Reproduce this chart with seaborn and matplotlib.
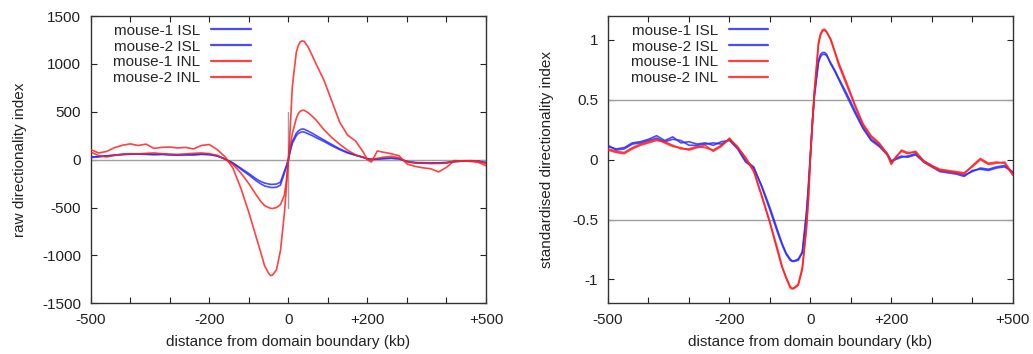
"""
Directionality index around domain boundaries (raw vs standardised)
"""

import pandas as pd
import matplotlib
matplotlib.use('Agg')
import matplotlib.pyplot as plt
import seaborn as sns

# distance from boundary (kb)
X_KB = [-500, -480, -460, -440, -420, -400, -380, -360, -340, -320, -300, -280, -260, -240,
        -220, -200, -180, -160, -140, -120, -100, -80,
        -70, -60, -50, -45, -40, -30, -20, -10, -5, 0, 5, 10, 20, 25, 30, 35, 40, 50, 60, 70,
        90, 110, 130, 150, 170, 190, 200, 210, 225, 240, 260, 280, 300, 320, 340, 360, 380,
        400, 420, 440, 460, 480, 500]

# raw directionality index
RAW_ISL_1 = [28, 32, 38, 45, 52, 56, 58, 55, 52, 54, 50, 48, 50, 52, 55, 52, 38, 5, -35, -90, -145, -205,
             -228, -245, -254, -258, -258, -255, -235, -120, -65, 0, 95, 170, 250, 272, 284, 290, 288, 270, 252, 230,
             190, 145, 105, 70, 45, 22, 8, 2, 5, 10, 14, 8, -20, -30, -32, -34, -34, -30, -20, -14, -12, -14, -30]
RAW_ISL_2 = [22, 30, 40, 48, 55, 60, 62, 58, 55, 57, 52, 50, 52, 50, 58, 55, 40, 8, -38, -100, -160, -225,
             -252, -275, -284, -290, -291, -288, -265, -140, -75, 0, 105, 190, 275, 298, 313, 320, 318, 298, 277, 252,
             205, 158, 112, 75, 48, 24, 10, 4, 8, 12, 16, 10, -18, -32, -36, -38, -36, -32, -22, -16, -14, -18, -35]
RAW_INL_1 = [105, 70, 85, 125, 150, 165, 148, 162, 118, 128, 132, 122, 128, 112, 148, 158, 105, 30, -90, -300, -550, -828,
             -965, -1110, -1185, -1211, -1205, -1150, -950, -560, -290, 0, 350, 760, 1120, 1190, 1230, 1240, 1235, 1175, 1090, 1000,
             830, 610, 390, 255, 195, 75, 0, -25, 90, 78, 62, 40, -45, -70, -85, -95, -128, -80, -10, -15, -18, -28, -63]
RAW_INL_2 = [80, 42, 28, 45, 58, 62, 60, 66, 70, 62, 58, 55, 60, 66, 70, 62, 45, 5, -50, -140, -250, -376,
             -435, -480, -500, -508, -510, -500, -470, -370, -220, 0, 150, 270, 430, 480, 505, 515, 515, 490, 455, 415,
             312, 230, 160, 98, 50, 24, 5, 0, 14, 25, 35, 18, -22, -35, -38, -40, -40, -35, -12, -12, -10, -14, -40]

# standardised directionality index
STD_ISL_1 = [0.11, 0.09, 0.10, 0.14, 0.15, 0.17, 0.20, 0.16, 0.19, 0.14, 0.15, 0.13, 0.14, 0.12, 0.15, 0.16, 0.09, -0.02, -0.07, -0.22, -0.40, -0.60,
             -0.70, -0.78, -0.83, -0.845, -0.845, -0.83, -0.77, -0.45, -0.22, 0.05, 0.32, 0.55, 0.83, 0.88, 0.895, 0.895, 0.88, 0.80, 0.74, 0.67,
             0.53, 0.39, 0.26, 0.16, 0.11, 0.04, -0.02, 0.0, 0.02, 0.03, 0.05, -0.01, -0.05, -0.09, -0.10, -0.11, -0.13, -0.10, -0.07, -0.08, -0.06, -0.05, -0.11]
STD_ISL_2 = [0.12, 0.08, 0.09, 0.13, 0.14, 0.16, 0.18, 0.15, 0.17, 0.16, 0.12, 0.12, 0.13, 0.14, 0.13, 0.17, 0.10, -0.01, -0.06, -0.23, -0.42, -0.62,
             -0.71, -0.79, -0.84, -0.85, -0.85, -0.84, -0.78, -0.47, -0.24, 0.03, 0.30, 0.53, 0.81, 0.86, 0.88, 0.88, 0.87, 0.81, 0.75, 0.68,
             0.55, 0.41, 0.27, 0.17, 0.12, 0.05, -0.01, 0.01, 0.03, 0.02, 0.04, -0.02, -0.06, -0.10, -0.11, -0.12, -0.14, -0.09, -0.08, -0.09, -0.07, -0.06, -0.10]
STD_INL_1 = [0.09, 0.07, 0.06, 0.10, 0.13, 0.15, 0.17, 0.14, 0.11, 0.10, 0.08, 0.10, 0.12, 0.07, 0.11, 0.18, 0.10, 0.02, -0.09, -0.30, -0.52, -0.76,
             -0.89, -0.98, -1.06, -1.075, -1.07, -1.04, -0.90, -0.57, -0.33, 0.02, 0.32, 0.58, 0.98, 1.05, 1.085, 1.09, 1.07, 1.00, 0.90, 0.79,
             0.62, 0.45, 0.29, 0.19, 0.13, 0.04, -0.04, 0.02, 0.07, 0.05, 0.07, -0.01, -0.05, -0.08, -0.09, -0.10, -0.11, -0.06, 0.00, -0.04, -0.03, -0.02, -0.12]
STD_INL_2 = [0.08, 0.06, 0.05, 0.09, 0.12, 0.14, 0.16, 0.15, 0.12, 0.09, 0.09, 0.11, 0.10, 0.08, 0.12, 0.17, 0.11, 0.01, -0.10, -0.31, -0.53, -0.78,
             -0.90, -0.99, -1.07, -1.08, -1.075, -1.05, -0.92, -0.59, -0.34, 0.01, 0.30, 0.56, 0.96, 1.04, 1.075, 1.08, 1.065, 1.01, 0.91, 0.81,
             0.64, 0.46, 0.30, 0.20, 0.14, 0.05, -0.03, 0.01, 0.08, 0.06, 0.06, -0.02, -0.06, -0.09, -0.10, -0.11, -0.12, -0.05, 0.01, -0.03, -0.02, -0.03, -0.13]

LABELS = ['mouse-1 ISL', 'mouse-2 ISL', 'mouse-1 INL', 'mouse-2 INL']
COLORS = ['#2a2aff', '#2a2aff', '#ff2020', '#ff2020']

X_TICKS = [-500, -400, -300, -200, -100, 0, 100, 200, 300, 400, 500]
X_TICKLABELS = ['-500', '', '', '-200', '', '0', '', '+200', '', '', '+500']

sns.set_theme(style='ticks')
plt.rcParams['font.family'] = ['Liberation Sans', 'DejaVu Sans']
plt.rcParams['font.size'] = 11
plt.rcParams['axes.unicode_minus'] = False


def style_axes(ax):
    ax.set_xlim(-500, 500)
    ax.set_xticks(X_TICKS)
    ax.set_xticklabels(X_TICKLABELS)
    ax.tick_params(direction='in', top=True, right=True, length=4, width=0.8,
                   labelsize=11, colors='#222222', pad=7)
    for side in ax.spines.values():
        side.set_color('#333333')
        side.set_linewidth(1.0)
    ax.set_xlabel('distance from domain boundary (kb)', fontsize=11, color='#222222', labelpad=6)
    leg = ax.legend(loc='upper left', bbox_to_anchor=(0.03, 1.01), frameon=False,
                    markerfirst=False, handlelength=2.6, handletextpad=0.7,
                    labelspacing=0.12, fontsize=11, borderaxespad=0.3)
    for line in leg.get_lines():
        line.set_linewidth(1.6)


def draw(ax, series):
    for vals, lab, col in zip(series, LABELS, COLORS):
        df = pd.DataFrame({'kb': X_KB, 'di': vals})
        sns.lineplot(data=df, x='kb', y='di', ax=ax, color=col, lw=1.2,
                     alpha=0.85, label=lab, zorder=3)


fig = plt.figure(figsize=(10.33, 3.54), dpi=100)
ax1 = fig.add_axes([0.0878, 0.1432, 0.3827, 0.8116])
ax2 = fig.add_axes([0.5886, 0.1432, 0.3918, 0.8116])

# left: raw index
ax1.axhline(0, color='#a0a0a0', lw=1.0, zorder=1)
ax1.plot([0, 0], [-500, 500], color='#a0a0a0', lw=1.0, zorder=1)
draw(ax1, [RAW_ISL_1, RAW_ISL_2, RAW_INL_1, RAW_INL_2])
ax1.set_ylim(-1500, 1500)
ax1.set_yticks([-1500, -1000, -500, 0, 500, 1000, 1500])
ax1.set_ylabel('raw directionality index', fontsize=11, color='#222222', labelpad=11)
style_axes(ax1)

# right: standardised index
for g in (-0.5, 0.5):
    ax2.axhline(g, color='#a0a0a0', lw=1.0, zorder=1)
draw(ax2, [STD_ISL_1, STD_ISL_2, STD_INL_1, STD_INL_2])
ax2.set_ylim(-1.2, 1.2)
ax2.set_yticks([-1, -0.5, 0, 0.5, 1])
ax2.set_yticklabels(['-1', '-0.5', '0', '0.5', '1'])
ax2.set_ylabel('standardised directionality index', fontsize=11, color='#222222', labelpad=13)
style_axes(ax2)

fig.savefig('out.png', dpi=100)
